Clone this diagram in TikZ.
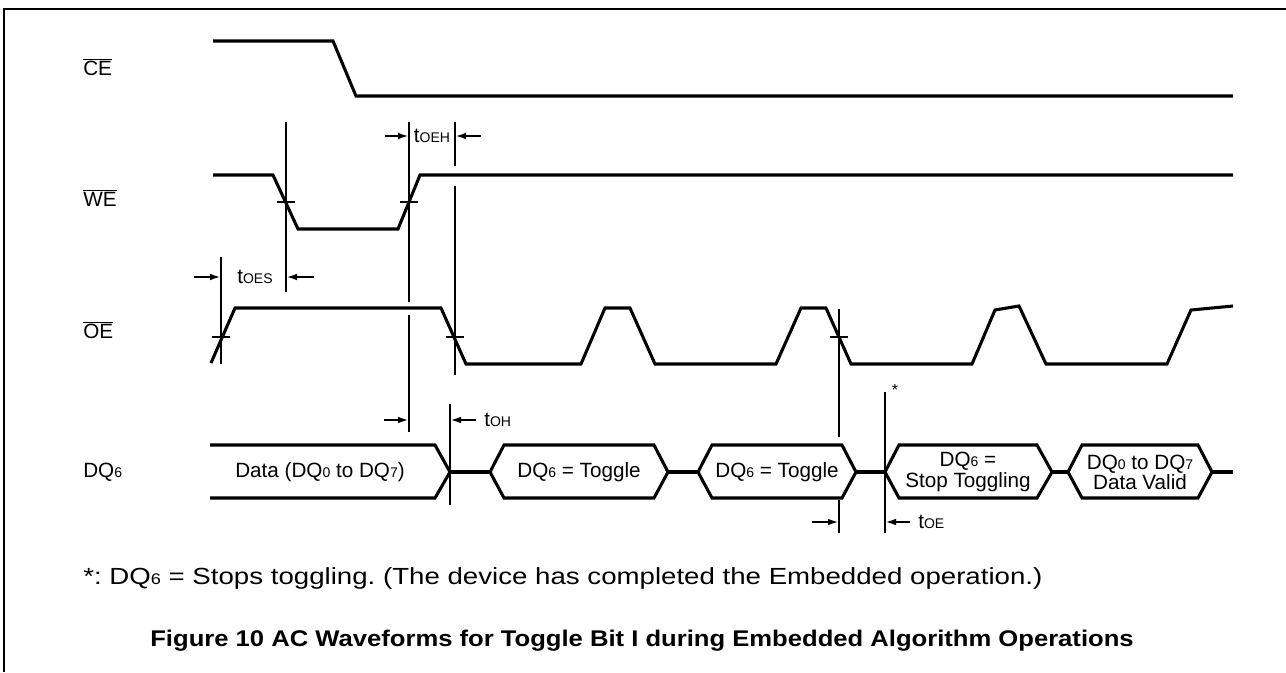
\documentclass[tikz,border=0pt]{standalone}
\usepackage{fontspec}
\setmainfont{Liberation Sans}
\newfontfamily\notefont[FakeStretch=1.185]{Liberation Sans}
\newfontfamily\capfont[FakeStretch=1.13]{Liberation Sans}
\usetikzlibrary{arrows.meta}
\newcommand\sbx[1]{{\fontsize{10.5}{12}\selectfont #1}}
\newcommand\obar[1]{$\overline{\hbox{#1}}$}
\frenchspacing
\begin{document}
\begin{tikzpicture}[x=0.75pt,y=-0.75pt,
  sig/.style={line width=2.3pt, line join=miter},
  vline/.style={line width=1pt},
  dimarrow/.style={line width=1pt,-{Latex[length=7.5pt,width=5pt]}},
  lbl/.style={font=\fontsize{15.5}{18.5}\selectfont, inner sep=0pt},
  boxtext/.style={font=\fontsize{15.5}{13.5}\selectfont, inner sep=0pt, align=center},
]
\useasboundingbox (0,0) rectangle (1286,672);
\draw[line width=2.2pt] (4,672) -- (4,9) -- (1286,9);

% signal labels
\node[lbl, anchor=west] (ce) at (83,67) {\obar{CE}};
\node[lbl, anchor=west] (we) at (83,198) {\obar{WE}};
\node[lbl, anchor=west] (oe) at (83,330) {\obar{OE}};
\node[lbl, anchor=west] (dq) at (83,472) {DQ\sbx{6}};

% CE
\draw[sig] (213,41) -- (333,41) -- (356,96) -- (1233,96);
% WE
\draw[sig] (213,175) -- (273,175) -- (298,229) -- (398,229) -- (420,175) -- (1233,175);
% OE
\draw[sig] (211,363) -- (235,308) -- (441,308) -- (466,364) -- (581,364) -- (605,308)
  -- (630,308) -- (655,364) -- (776,364) -- (801,308) -- (826,308) -- (851,364)
  -- (972,364) -- (995,310) -- (1019,306) -- (1046,364) -- (1167,364) -- (1191,310) -- (1233,306);

% vertical reference lines
\draw[vline] (286,122) -- (286,292);
\draw[vline] (409,122) -- (409,302) (409,315) -- (409,432);
\draw[vline] (455,122) -- (455,166) (455,186) -- (455,375);
\draw[vline] (221,257) -- (221,364);
\draw[vline] (450,404) -- (450,505);
\draw[vline] (839,309) -- (839,437) (839,500) -- (839,533);
\draw[vline] (885,392) -- (885,533);

% crossing ticks
\draw[vline] (277,202) -- (295,202) (400,202) -- (418,202);
\draw[vline] (212,337) -- (230,337) (446,337) -- (464,337) (830,337) -- (848,337);

% DQ6 waveform
\draw[sig] (210,445) -- (435,445) -- (450,472) -- (435,498) -- (210,498);
\draw[sig] (450,472) -- (490,472);
\draw[sig] (490,472) -- (504,445) -- (654,445) -- (668,472) -- (654,498) -- (504,498) -- cycle;
\draw[sig] (668,472) -- (698,472);
\draw[sig] (698,472) -- (712,445) -- (842,445) -- (856,472) -- (842,498) -- (712,498) -- cycle;
\draw[sig] (856,472) -- (885,472);
\draw[sig] (885,472) -- (899,445) -- (1037,445) -- (1052,472) -- (1037,498) -- (899,498) -- cycle;
\draw[sig] (1052,472) -- (1068,472);
\draw[sig] (1068,472) -- (1082,445) -- (1198,445) -- (1212,472) -- (1198,498) -- (1082,498) -- cycle;
\draw[sig] (1212,472) -- (1233,472);

\node[boxtext] (d0) at (320,472) {Data (DQ\sbx{0} to DQ\sbx{7})};
\node[boxtext] (d1) at (579,472) {DQ\sbx{6} = Toggle};
\node[boxtext] (d2) at (777,472) {DQ\sbx{6} = Toggle};
\node[boxtext] (d3) at (968,472) {DQ\sbx{6} =\\Stop Toggling};
\node[boxtext] (d4) at (1140,472) {DQ\sbx{0} to DQ\sbx{7}\\Data Valid};

% timing dimensions
\draw[dimarrow] (385,136) -- (408,136);
\draw[dimarrow] (481,136) -- (456,136);
\node[lbl] (toeh) at (432,136) {t\sbx{OEH}};
\draw[dimarrow] (194,277) -- (220,277);
\draw[dimarrow] (314,277) -- (287,277);
\node[lbl] (toes) at (255,277) {t\sbx{OES}};
\draw[dimarrow] (384,420) -- (408,420);
\draw[dimarrow] (476,420) -- (451,420);
\node[lbl, anchor=west] (toh) at (484,420) {t\sbx{OH}};
\draw[dimarrow] (812,522) -- (838,522);
\draw[dimarrow] (910,522) -- (886,522);
\node[lbl, anchor=west] (toe) at (918,522) {t\sbx{OE}};
\node[font=\fontsize{12}{12}\selectfont, inner sep=0pt] (star) at (895,390) {*};

% notes
\node[inner sep=0pt, anchor=west, font=\notefont\fontsize{17.5}{20}\selectfont] (note) at (83,578) {*: DQ{\fontsize{11.5}{12}\selectfont 6} = Stops toggling. (The device has completed the Embedded operation.)};
\node[inner sep=0pt, font=\capfont\fontsize{17}{20}\selectfont\bfseries] (cap) at (642,641) {Figure 10 AC Waveforms for Toggle Bit I during Embedded Algorithm Operations};
\end{tikzpicture}
\end{document}
